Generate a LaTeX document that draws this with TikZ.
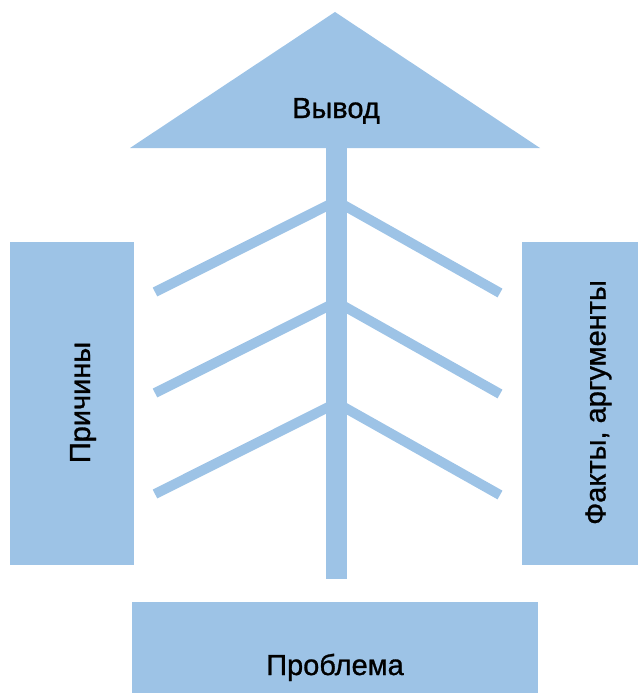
\documentclass[tikz,border=0pt]{standalone}
\usepackage{fontspec}
\setmainfont{Liberation Sans}
\newfontfamily\labfont[FakeBold=1]{Liberation Sans}
\definecolor{lb}{HTML}{9DC3E6}
\tikzset{
  branch/.style={draw=lb, line width=10pt},
  txt/.style={font=\labfont\fontsize{29}{32}\selectfont, text=black, inner sep=0pt},
}
\begin{document}
\begin{tikzpicture}[x=1pt,y=-1pt]
\useasboundingbox (0,0) rectangle (638,693);
% roof
\fill[lb] (130,148) -- (335,12) -- (540,148) -- cycle;
% side and bottom boxes
\fill[lb] (10,242) rectangle (134,565);
\fill[lb] (522,242) rectangle (638,565);
\fill[lb] (132,602) rectangle (538,693);
% branches
\coordinate (j1) at (336.5,201);
\coordinate (j2) at (336.5,302);
\coordinate (j3) at (336.5,403);
\coordinate (l1) at (155,292);
\coordinate (l2) at (155,393);
\coordinate (l3) at (155,494);
\coordinate (r1) at (500,293);
\coordinate (r2) at (500,394);
\coordinate (r3) at (500,495);
\foreach \i in {1,2,3}{
  \draw[branch] (l\i) -- (j\i);
  \draw[branch] (j\i) -- (r\i);
}
% spine
\fill[lb] (326,140) rectangle (347,579);
% texts
\node[txt, anchor=base] (vyvod) at (336,118) {Вывод};
\node[txt, anchor=base] (problema) at (335,675) {Проблема};
\node[txt, rotate=90, anchor=base] (prichiny) at (90,402.5) {Причины};
\node[txt, rotate=90, anchor=base] (fakty) at (605.5,402.5) {Факты, аргументы};
\end{tikzpicture}
\end{document}
